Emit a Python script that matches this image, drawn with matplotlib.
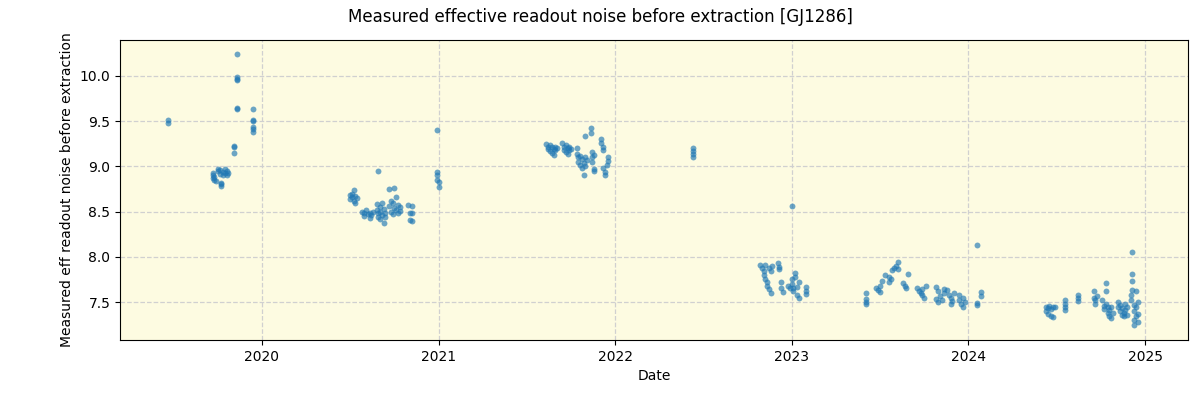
import numpy as np
import pandas as pd
import matplotlib
matplotlib.use('Agg')
import matplotlib.pyplot as plt
import matplotlib.dates as mdates

# observing seasons, dates as decimal years
dates_2019 = [2019.47, 2019.47,
              2019.72, 2019.72, 2019.72, 2019.73, 2019.73, 2019.74, 2019.75, 2019.75, 2019.76, 2019.76,
              2019.77, 2019.77, 2019.77, 2019.78, 2019.78, 2019.79, 2019.79, 2019.80, 2019.80, 2019.81,
              2019.84, 2019.84, 2019.84,
              2019.86, 2019.86, 2019.86, 2019.86, 2019.86, 2019.86,
              2019.95, 2019.95, 2019.95, 2019.95, 2019.95, 2019.95]
noise_2019 = [9.51, 9.48,
              8.93, 8.90, 8.87, 8.85, 8.88, 8.84, 8.95, 8.97, 8.92, 8.96,
              8.80, 8.78, 8.82, 8.94, 8.91, 8.97, 8.93, 8.95, 8.90, 8.93,
              9.23, 9.21, 9.15,
              10.24, 9.99, 9.97, 9.96, 9.65, 9.64,
              9.64, 9.51, 9.50, 9.44, 9.41, 9.38]

dates_2020 = [2020.50, 2020.50, 2020.51, 2020.51, 2020.52, 2020.52, 2020.53, 2020.53, 2020.54,
              2020.57, 2020.58, 2020.58, 2020.59, 2020.60, 2020.61, 2020.61, 2020.62, 2020.63,
              2020.65, 2020.65, 2020.66, 2020.66, 2020.66, 2020.67, 2020.67, 2020.67, 2020.68, 2020.68,
              2020.69, 2020.69, 2020.70, 2020.70,
              2020.72, 2020.72, 2020.73, 2020.73, 2020.74, 2020.74, 2020.75, 2020.75, 2020.76, 2020.76,
              2020.77, 2020.77, 2020.78, 2020.78,
              2020.83, 2020.84, 2020.84, 2020.85, 2020.85, 2020.85,
              2020.99, 2020.99, 2020.99, 2020.99, 2021.00, 2021.00]
noise_2020 = [8.68, 8.64, 8.70, 8.66, 8.62, 8.74, 8.67, 8.60, 8.65,
              8.50, 8.48, 8.45, 8.52, 8.47, 8.43, 8.49, 8.46, 8.50,
              8.58, 8.52, 8.48, 8.44, 8.95, 8.55, 8.42, 8.50, 8.46, 8.60,
              8.53, 8.37, 8.48, 8.44,
              8.75, 8.56, 8.62, 8.50, 8.59, 8.47, 8.76, 8.54, 8.66, 8.52,
              8.57, 8.49, 8.55, 8.51,
              8.57, 8.49, 8.41, 8.56, 8.48, 8.40,
              9.40, 8.94, 8.90, 8.85, 8.83, 8.77]

dates_2021 = [2021.61, 2021.62, 2021.62, 2021.63, 2021.63, 2021.64, 2021.64, 2021.65, 2021.65, 2021.66,
              2021.66, 2021.67,
              2021.70, 2021.71, 2021.71, 2021.72, 2021.72, 2021.73, 2021.73, 2021.74, 2021.74, 2021.75,
              2021.78, 2021.78, 2021.79, 2021.79, 2021.80, 2021.80, 2021.81, 2021.81, 2021.82, 2021.82,
              2021.83, 2021.83, 2021.84, 2021.83,
              2021.86, 2021.86, 2021.87, 2021.87, 2021.87, 2021.88, 2021.88, 2021.88,
              2021.92, 2021.92, 2021.93, 2021.93, 2021.93, 2021.94, 2021.94, 2021.95, 2021.96, 2021.96,
              2022.44, 2022.44, 2022.44, 2022.44]
noise_2021 = [9.25, 9.22, 9.19, 9.24, 9.17, 9.21, 9.15, 9.19, 9.13, 9.18,
              9.22, 9.20,
              9.26, 9.22, 9.18, 9.24, 9.16, 9.20, 9.14, 9.22, 9.18, 9.19,
              9.20, 9.14, 9.10, 9.05, 9.02, 9.12, 9.08, 8.98, 8.91, 9.04,
              9.10, 9.00, 9.07, 9.34,
              9.42, 9.37, 9.16, 9.10, 9.05, 8.97, 8.95, 9.13,
              9.30, 9.26, 9.22, 9.18, 8.98, 8.94, 8.91, 9.02, 9.10, 9.06,
              9.20, 9.17, 9.14, 9.10]

dates_2022 = [2022.82, 2022.83, 2022.84, 2022.84, 2022.85, 2022.85, 2022.86, 2022.86, 2022.87, 2022.87,
              2022.88, 2022.88, 2022.89,
              2022.92, 2022.93, 2022.93, 2022.94, 2022.94, 2022.95,
              2022.98, 2022.99, 2023.00, 2023.00, 2023.00, 2023.01, 2023.01, 2023.02, 2023.02, 2023.03,
              2023.03, 2023.04, 2023.04,
              2023.08, 2023.08, 2023.08]
noise_2022 = [7.91, 7.88, 7.84, 7.80, 7.76, 7.91, 7.72, 7.68, 7.64, 7.88,
              7.60, 7.84, 7.90,
              7.93, 7.89, 7.86, 7.72, 7.65, 7.61,
              7.68, 7.65, 8.56, 7.70, 7.75, 7.66, 7.62, 7.82, 7.78, 7.67,
              7.58, 7.55, 7.72,
              7.67, 7.62, 7.59]

dates_2023 = [2023.42, 2023.42, 2023.42, 2023.42,
              2023.48, 2023.49, 2023.50, 2023.50, 2023.51,
              2023.53, 2023.55, 2023.55, 2023.56, 2023.57, 2023.58, 2023.59, 2023.60, 2023.60,
              2023.66, 2023.63, 2023.64, 2023.65,
              2023.71, 2023.72, 2023.73, 2023.74, 2023.74, 2023.75, 2023.76,
              2023.82, 2023.82, 2023.83, 2023.83, 2023.84, 2023.85, 2023.86, 2023.86,
              2023.88, 2023.89, 2023.90, 2023.90, 2023.91, 2023.92,
              2023.95, 2023.95, 2023.96, 2023.97, 2023.97, 2023.98,
              2024.05, 2024.05, 2024.05, 2024.07, 2024.07]
noise_2023 = [7.60, 7.53, 7.50, 7.48,
              7.66, 7.63, 7.61, 7.68, 7.73,
              7.80, 7.78, 7.72, 7.75, 7.85, 7.88, 7.90, 7.94, 7.87,
              7.81, 7.71, 7.68, 7.66,
              7.65, 7.62, 7.60, 7.58, 7.64, 7.55, 7.68,
              7.67, 7.53, 7.50, 7.62, 7.57, 7.52, 7.64, 7.60,
              7.63, 7.58, 7.55, 7.48, 7.51, 7.60,
              7.58, 7.52, 7.48, 7.45, 7.55, 7.50,
              8.13, 7.49, 7.47, 7.61, 7.57]

dates_2024 = [2024.44, 2024.44, 2024.45, 2024.45, 2024.46, 2024.47, 2024.47, 2024.48, 2024.48, 2024.49,
              2024.55, 2024.55, 2024.55, 2024.55,
              2024.62, 2024.62, 2024.62,
              2024.71, 2024.71, 2024.72, 2024.72, 2024.73,
              2024.76, 2024.77, 2024.77, 2024.78, 2024.78, 2024.78, 2024.79, 2024.79, 2024.80, 2024.80,
              2024.81, 2024.81, 2024.82,
              2024.85, 2024.85, 2024.86, 2024.86, 2024.87, 2024.87, 2024.88, 2024.88, 2024.89, 2024.89,
              2024.90, 2024.90,
              2024.92, 2024.92, 2024.93, 2024.93, 2024.93, 2024.93, 2024.94, 2024.94, 2024.94, 2024.94,
              2024.95, 2024.95, 2024.95, 2024.96, 2024.96, 2024.96]
noise_2024 = [7.45, 7.40, 7.37, 7.43, 7.46, 7.42, 7.35, 7.33, 7.44, 7.45,
              7.52, 7.48, 7.44, 7.41,
              7.58, 7.55, 7.51,
              7.62, 7.55, 7.52, 7.48, 7.57,
              7.52, 7.46, 7.42, 7.48, 7.71, 7.62, 7.44, 7.38, 7.35, 7.41,
              7.32, 7.45, 7.38,
              7.50, 7.45, 7.40, 7.47, 7.36, 7.43, 7.38, 7.34, 7.48, 7.41,
              7.36, 7.44,
              7.58, 7.52, 8.05, 7.81, 7.73, 7.63, 7.47, 7.40, 7.30, 7.25,
              7.62, 7.44, 7.35, 7.28, 7.37, 7.50]

def to_datetime(years):
    years = np.asarray(years)
    whole = years.astype(int)
    start = pd.to_datetime([f'{y}-01-01' for y in whole])
    return start + pd.to_timedelta((years - whole) * 365.25, unit='D')

all_dates = dates_2019 + dates_2020 + dates_2021 + dates_2022 + dates_2023 + dates_2024
all_noise = noise_2019 + noise_2020 + noise_2021 + noise_2022 + noise_2023 + noise_2024

fig = plt.figure(figsize=(12, 4), dpi=100)
ax = fig.add_axes([0.1, 0.15, 0.89, 0.75])
ax.set_facecolor('#fdfbe1')
ax.scatter(to_datetime(all_dates), all_noise, s=18, color='#1f77b4', alpha=0.65, linewidths=0, zorder=3)

ax.set_xlim(to_datetime([2019.196])[0], to_datetime([2025.243])[0])
ax.set_ylim(7.08, 10.398)
ax.xaxis.set_major_locator(mdates.YearLocator())
ax.xaxis.set_major_formatter(mdates.DateFormatter('%Y'))
ax.set_yticks([7.5, 8.0, 8.5, 9.0, 9.5, 10.0])
ax.grid(True, ls='--', color='#d0d0d0', lw=0.9)
ax.set_axisbelow(True)

ax.set_xlabel('Date')
ax.set_ylabel('Measured eff readout noise before extraction')
fig.suptitle('Measured effective readout noise before extraction [GJ1286]', fontsize=12, y=0.98)

plt.savefig('out.png', dpi=100)
